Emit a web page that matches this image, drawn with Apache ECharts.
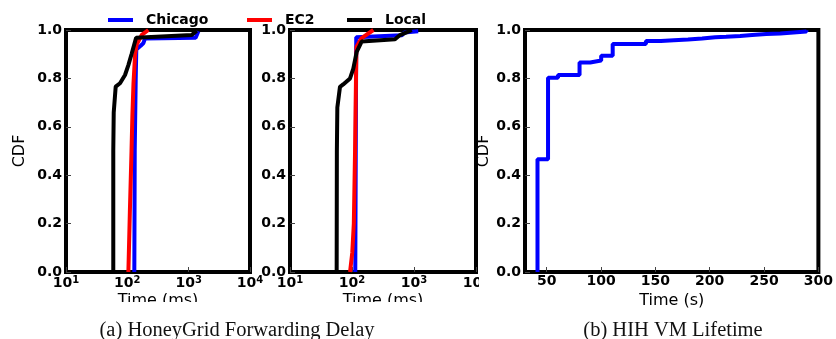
<!DOCTYPE html>
<html>
<head>
<meta charset="utf-8">
<script src="https://cdn.jsdelivr.net/npm/echarts@6/dist/echarts.min.js"></script>
<style>html,body{margin:0;padding:0;background:#fff;}#c{width:836px;height:339px;}</style>
</head>
<body>
<div id="c"></div>
<script>
// ---- Data ----
const seriesNames = ['Chicago', 'EC2', 'Local'];
const seriesColors = ['#0000ff', '#ff0000', '#000000'];

// (a) left panel: [time ms, CDF]
const a1Chicago = [[130,0],[132,0.5],[137,0.8],[140,0.92],[165,0.935],[182,0.945],[194,0.965],[1300,0.968],[1356,0.975],[1440,0.995]];
const a1EC2 = [[104,0],[110,0.25],[117,0.5],[121,0.65],[126,0.78],[134,0.9],[142,0.94],[172,0.98],[220,1.0]];
const a1Local = [[59,0],[59,0.5],[60,0.66],[64.6,0.766],[76,0.78],[91.7,0.814],[104,0.855],[117,0.9],[139,0.968],[1122,0.979],[1350,0.997]];

// (a) middle panel
const a2Chicago = [[113,0],[115,0.5],[117,0.97],[125,0.978],[640,0.978],[700,0.99],[1170,0.995]];
const a2EC2 = [[93,0],[101,0.08],[107,0.2],[112,0.5],[116,0.8],[118,0.93],[130,0.95],[143,0.966],[221,1.0]];
const a2Local = [[56.6,0],[57,0.5],[58,0.68],[64,0.765],[72,0.775],[93,0.8],[105,0.84],[119,0.91],[143,0.952],[494,0.962],[594,0.979],[809,0.993],[918,1.0]];

// (b) HIH VM lifetime: [time s, CDF]
const bLifetime = [[41.5,0],[41.5,0.466],[51.2,0.803],[60.4,0.814],[80.2,0.866],[90,0.874],[100.1,0.894],[110.7,0.942],[141.3,0.955],[155,0.958],[167,0.961],[180,0.965],[193,0.970],[205,0.972],[215,0.975],[228,0.979],[239,0.983],[252,0.986],[265,0.99],[277,0.994],[289,0.999]];

const yTicks = [0, 0.2, 0.4, 0.6, 0.8, 1.0];
const bTicks = [50, 100, 150, 200, 250, 300];
const captions = ['(a) HoneyGrid Forwarding Delay', '(b) HIH VM Lifetime'];

// ---- Chart ----
const chart = echarts.init(document.getElementById('c'));
const tickFont = {fontFamily: 'DejaVu Sans', fontWeight: 'bold', fontSize: 14, color: '#000'};
const nameFont = {fontFamily: 'DejaVu Sans', fontWeight: 'normal', fontSize: 16, color: '#000'};

function yAxis(gi, withName, gap) {
  return {
    type: 'value', gridIndex: gi, min: 0, max: 1, interval: 0.2,
    name: withName ? 'CDF' : '', nameLocation: 'middle', nameGap: gap, nameTextStyle: nameFont,
    axisLine: {show: false}, splitLine: {show: false},
    axisTick: {show: true, inside: true, length: 5, lineStyle: {color: '#444'}},
    axisLabel: Object.assign({margin: 4, formatter: v => v.toFixed(1)}, tickFont)
  };
}
function logX(gi) {
  return {
    type: 'log', logBase: 10, gridIndex: gi, min: 10, max: 10000,
    name: 'Time (ms)', nameLocation: 'middle', nameGap: 21, nameMoveOverlap: false, nameTextStyle: nameFont,
    axisLine: {show: false}, splitLine: {show: false}, minorTick: {show: false},
    axisTick: {show: true, inside: true, length: 5, lineStyle: {color: '#444'}},
    axisLabel: {
      margin: 3, showMinLabel: true, showMaxLabel: true,
      formatter: v => '{b|10}{s|' + Math.round(Math.log10(v)) + '}',
      rich: {
        b: {fontFamily: 'DejaVu Sans', fontWeight: 'bold', fontSize: 14, color: '#000'},
        s: {fontFamily: 'DejaVu Sans', fontWeight: 'bold', fontSize: 10, color: '#000', padding: [0,0,7,0]}
      }
    }
  };
}
function lineSeries(name, data, xi, color) {
  return {type: 'line', name: name, xAxisIndex: xi, yAxisIndex: xi, data: data, showSymbol: false, symbol: 'none',
    lineStyle: {color: color, width: 4}, itemStyle: {color: color}, animation: false};
}
function legendAt(name, left) {
  return {data: [name], left: left, top: 8, icon: 'rect', itemWidth: 25, itemHeight: 4,
    textStyle: {fontFamily: 'DejaVu Sans', fontWeight: 'bold', fontSize: 14, color: '#000', padding: [0,0,0,8]}};
}
const gridStyle = {show: true, borderColor: '#000', borderWidth: 4, backgroundColor: '#fff'};
const capStyle = {fontFamily: 'Liberation Serif', fontWeight: 'normal', fontSize: 20.5, color: '#111'};

chart.setOption({
  animation: false,
  title: [
    {text: captions[0], left: 232, top: 315, textAlign: 'center', textStyle: capStyle},
    {text: captions[1], left: 668, top: 315, textAlign: 'center', textStyle: capStyle}
  ],
  legend: [legendAt(seriesNames[0], 103), legendAt(seriesNames[1], 242), legendAt(seriesNames[2], 342)],
  grid: [
    Object.assign({left: 66, top: 30, width: 184, height: 242}, gridStyle),
    Object.assign({left: 290, top: 30, width: 186, height: 242}, gridStyle),
    Object.assign({left: 525, top: 30, width: 295, height: 242}, gridStyle)
  ],
  xAxis: [
    logX(0), logX(1),
    {
      type: 'value', gridIndex: 2, min: 30, max: 300,
      name: 'Time (s)', nameLocation: 'middle', nameGap: 17, nameTextStyle: nameFont,
      axisLine: {show: false}, splitLine: {show: false},
      axisTick: {show: true, inside: true, length: 5, customValues: bTicks, lineStyle: {color: '#444'}},
      axisLabel: Object.assign({margin: 2, customValues: bTicks}, tickFont)
    }
  ],
  yAxis: [yAxis(0, true, 38), yAxis(1, false, 30), yAxis(2, true, 28)],
  series: [
    lineSeries(seriesNames[0], a1Chicago, 0, seriesColors[0]),
    lineSeries(seriesNames[1], a1EC2, 0, seriesColors[1]),
    lineSeries(seriesNames[2], a1Local, 0, seriesColors[2]),
    lineSeries(seriesNames[0], a2Chicago, 1, seriesColors[0]),
    lineSeries(seriesNames[1], a2EC2, 1, seriesColors[1]),
    lineSeries(seriesNames[2], a2Local, 1, seriesColors[2]),
    Object.assign(lineSeries('Lifetime', bLifetime, 2, seriesColors[0]), {step: 'end'})
  ],
  graphic: [
    {type: 'rect', z: 100, shape: {x: 60, y: 302, width: 430, height: 10}, style: {fill: '#fff'}},
    {type: 'rect', z: 100, shape: {x: 479, y: 274, width: 15, height: 20}, style: {fill: '#fff'}}
  ]
});
</script>
</body>
</html>
